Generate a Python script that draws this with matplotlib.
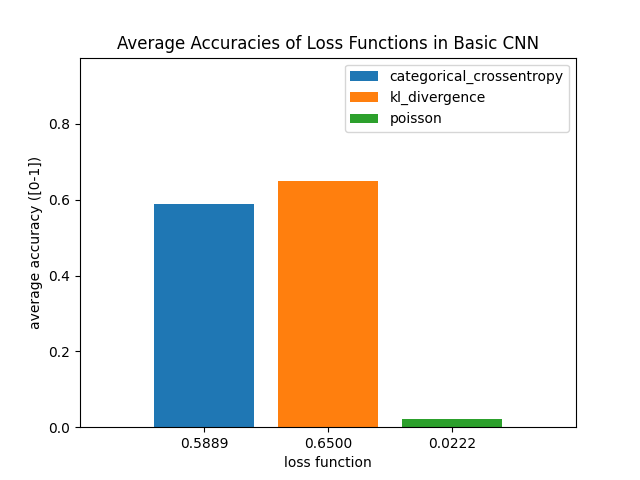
import matplotlib
matplotlib.use("Agg")
import matplotlib.pyplot as plt

# loss functions and their average accuracies
loss_names = ["categorical_crossentropy", "kl_divergence", "poisson"]
accuracies = [0.5889, 0.6500, 0.0222]
positions = [1, 2, 3]
tick_labels = ["%.4f" % a for a in accuracies]

fig, ax = plt.subplots(figsize=(6.4, 4.8), dpi=100)

for pos, acc, name in zip(positions, accuracies, loss_names):
    ax.bar(pos, acc, width=0.8, label=name)

ax.set_xlim(0, 4)
ax.set_ylim(0, max(accuracies) * 1.5)
ax.set_xticks(positions)
ax.set_xticklabels(tick_labels)
ax.set_xlabel("loss function")
ax.set_ylabel("average accuracy ([0-1])")
ax.set_title("Average Accuracies of Loss Functions in Basic CNN")
ax.legend(loc="upper right")

plt.savefig("out.png")
